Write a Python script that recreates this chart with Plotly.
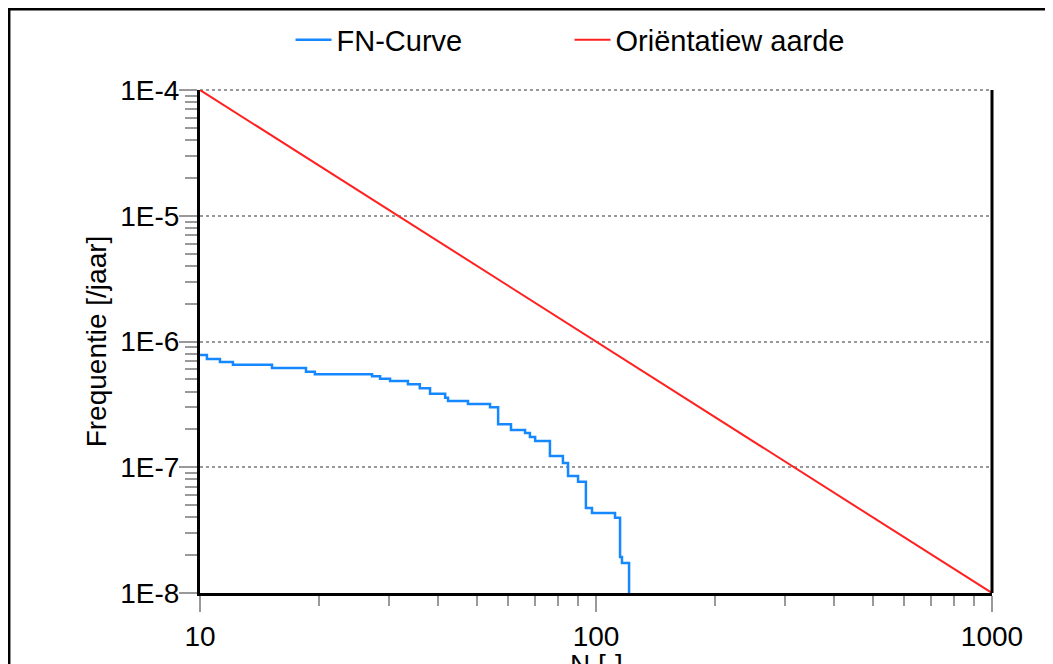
import numpy as np
import plotly.graph_objects as go

# FN-curve (number of victims N vs. cumulative frequency per year)
fn_n = [10, 10.41, 11.23, 12.11, 15.20, 18.52, 19.5, 27.2, 28.5, 30.2, 33.5, 35.9,
        38.1, 41.6, 42.3, 47.5, 54.0, 56.6, 61.0, 66.2, 68.1, 70.2, 74.3, 76.5,
        82.5, 85.0, 90.1, 94.3, 97.7, 111.7, 115.0, 116.3, 121.2]
fn_f = [7.81e-7, 7.26e-7, 6.87e-7, 6.54e-7, 6.16e-7, 5.75e-7, 5.48e-7, 5.30e-7, 5.06e-7,
        4.85e-7, 4.57e-7, 4.24e-7, 3.85e-7, 3.57e-7, 3.36e-7, 3.18e-7, 3.00e-7, 2.20e-7,
        1.98e-7, 1.87e-7, 1.74e-7, 1.62e-7, 1.62e-7, 1.23e-7, 1.08e-7, 8.52e-8, 7.67e-8,
        4.74e-8, 4.33e-8, 3.97e-8, 1.93e-8, 1.73e-8, 1.0e-8]

# Orientation value line
ov_n = [10, 1000]
ov_f = [1e-4, 1e-8]

y_tickvals = [1e-8, 1e-7, 1e-6, 1e-5, 1e-4]
y_ticktext = ["1E-8", "1E-7", "1E-6", "1E-5", "1E-4"]
x_tickvals = [10, 100, 1000]
x_ticktext = ["10", "100", "1000"]
x_title = "N [-]"
y_title = "Frequentie [/jaar]"

FONT = "Liberation Sans, Arial, sans-serif"

W, H = 1053, 664
ML, MR, MT, MB = 192, 69, 82, 79
PW = W - ML - MR
PH = H - MT - MB

fig = go.Figure()
fig.add_trace(go.Scatter(x=fn_n, y=fn_f, mode="lines", name="FN-Curve", legend="legend",
                         line=dict(color="#1688FF", width=2.5, shape="hv")))
fig.add_trace(go.Scatter(x=ov_n, y=ov_f, mode="lines", name="Oriëntatiew aarde",
                         legend="legend2", line=dict(color="#FF2020", width=2)))

y_minor = [m * 10.0 ** e for e in range(-8, -4) for m in range(2, 10)]
x_minor = [m * 10.0 ** e for e in range(1, 3) for m in range(2, 10)]

legend_common = dict(orientation="h", xanchor="left", y=1 + 50 / PH, yanchor="middle",
                     font=dict(family=FONT, size=29, color="black"),
                     bgcolor="rgba(0,0,0,0)", borderwidth=0, itemwidth=36)

fig.update_layout(
    width=W, height=H,
    margin=dict(l=ML, r=MR, t=MT, b=MB, autoexpand=False),
    paper_bgcolor="white", plot_bgcolor="white",
    font=dict(family=FONT, size=28, color="black"),
    showlegend=True,
    legend=dict(x=0.1143, **legend_common),
    legend2=dict(x=0.1143 + (576 - 297) / PW, **legend_common),
    xaxis=dict(type="log", range=[1, 3], tickmode="array", tickvals=x_tickvals,
               ticktext=x_ticktext, ticks="outside", ticklen=16, tickwidth=2,
               tickcolor="#999999", showline=True, linecolor="black", linewidth=3,
               showgrid=False, zeroline=False, automargin=False,
               minor=dict(tickmode="array", tickvals=x_minor, ticks="outside",
                          ticklen=10, tickwidth=2, tickcolor="#999999", showgrid=False)),
    yaxis=dict(type="log", range=[-8, -4], tickmode="array", tickvals=y_tickvals,
               ticktext=y_ticktext, ticks="outside", ticklen=18, tickwidth=2,
               tickcolor="#999999", showline=True, linecolor="black", linewidth=3,
               showgrid=True, gridcolor="#999999", gridwidth=2, griddash="dot",
               zeroline=False, automargin=False, ticklabelstandoff=-6,
               minor=dict(tickmode="array", tickvals=y_minor, ticks="outside",
                          ticklen=12, tickwidth=2, tickcolor="#999999", showgrid=False),
               title=dict(text=y_title, font=dict(family=FONT, size=28), standoff=6)),
    annotations=[
        dict(text=x_title, xref="paper", yref="paper", x=0.5, y=-(647 - 593) / PH,
             xanchor="center", yanchor="top", showarrow=False,
             font=dict(family=FONT, size=28, color="black")),
    ],
    shapes=[
        dict(type="line", xref="paper", yref="paper", x0=0, x1=1, y0=1, y1=1,
             line=dict(color="#999999", width=2, dash="dot"), layer="below"),
        dict(type="line", xref="paper", yref="paper", x0=1, x1=1, y0=0, y1=1,
             line=dict(color="black", width=3)),
        dict(type="rect", xref="paper", yref="paper",
             x0=(1.2 - ML) / PW, x1=(W + 20 - ML) / PW,
             y0=-(MB + 40) / PH, y1=1 + (MT - 1.3) / PH,
             line=dict(color="black", width=2.5), fillcolor="rgba(0,0,0,0)", layer="above"),
    ],
)

fig.write_html("out.html")
